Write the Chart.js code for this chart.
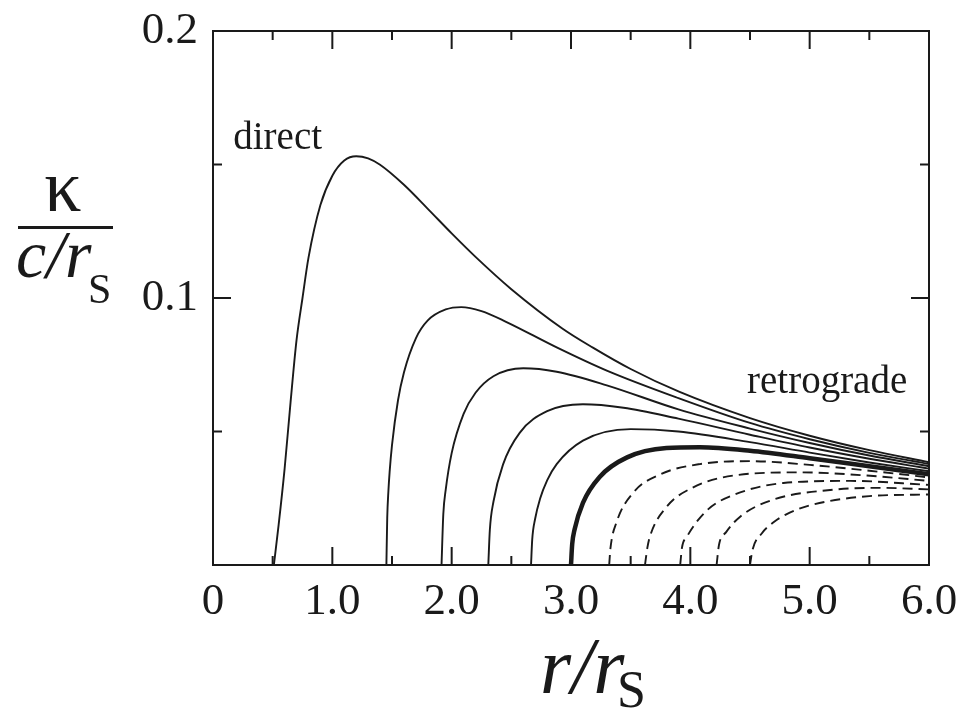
<!DOCTYPE html>
<html>
<head>
<meta charset="utf-8">
<title>Epicyclic frequency vs radius</title>
<script src="https://cdn.jsdelivr.net/npm/chart.js@4.4.1/dist/chart.umd.min.js"></script>
<style>
  html, body { margin: 0; padding: 0; background: #fff; }
  #wrap { width: 964px; height: 709px; position: relative; }
</style>
</head>
<body>
<div id="wrap"><canvas id="chart"></canvas></div>
<script>
// r / r_S and kappa / (c / r_S), one pair per curve
// direct orbits (solid), a = 1.0 ... 0.2
const r_a10 = [0.51, 0.55, 0.60, 0.65, 0.70, 0.75, 0.80, 0.90, 1.00, 1.10, 1.20, 1.30, 1.40, 1.60, 1.80, 2.00, 2.20, 2.50, 2.93, 3.18, 3.50, 3.91, 4.50, 5.00, 5.50, 6.00];
const k_a10 = [0, 0.015, 0.036, 0.061, 0.0842, 0.100, 0.115, 0.1348, 0.1458, 0.1515, 0.1531, 0.1523, 0.1499, 0.1424, 0.1334, 0.1242, 0.1154, 0.1033, 0.0885, 0.0815, 0.0734, 0.0648, 0.055, 0.0484, 0.043, 0.0385];

const r_a08 = [1.453, 1.46, 1.47, 1.48, 1.50, 1.55, 1.60, 1.70, 1.80, 1.95, 2.08, 2.25, 2.46, 2.88, 3.30, 3.90, 4.50, 5.00, 5.50, 6.00];
const k_a08 = [0, 0.0176, 0.0278, 0.0348, 0.0449, 0.0616, 0.0721, 0.0849, 0.0916, 0.0957, 0.0966, 0.0951, 0.091, 0.0815, 0.0728, 0.0625, 0.0532, 0.0471, 0.042, 0.0378];

const r_a06 = [1.915, 1.93, 1.95, 2.00, 2.10, 2.20, 2.35, 2.60, 2.88, 3.30, 3.90, 4.50, 5.00, 5.50, 6.00];
const k_a06 = [0, 0.0191, 0.0281, 0.0419, 0.0566, 0.0645, 0.0707, 0.0737, 0.0724, 0.0673, 0.0583, 0.0511, 0.0457, 0.041, 0.037];

const r_a04 = [2.307, 2.32, 2.35, 2.43, 2.57, 2.80, 3.10, 3.44, 3.90, 4.50, 5.00, 5.50, 6.00];
const k_a04 = [0, 0.0132, 0.0237, 0.0376, 0.0495, 0.0576, 0.0602, 0.0589, 0.0548, 0.0488, 0.044, 0.0398, 0.0361];

const r_a02 = [2.665, 2.675, 2.70, 2.74, 2.80, 2.88, 3.10, 3.50, 3.90, 4.50, 5.00, 5.50, 6.00];
const k_a02 = [0, 0.0095, 0.0174, 0.0247, 0.0317, 0.0378, 0.0466, 0.0509, 0.050, 0.046, 0.0421, 0.0384, 0.0351];

// non-rotating hole (thick line)
const r_a00 = [3.0, 3.01, 3.03, 3.10, 3.24, 3.47, 3.80, 4.08, 4.50, 5.00, 5.50, 6.00];
const k_a00 = [0, 0.0078, 0.0133, 0.0233, 0.033, 0.0403, 0.0438, 0.0441, 0.0428, 0.040, 0.037, 0.034];

// retrograde orbits (dashed), a = -0.2 ... -1.0
const r_m02 = [3.32, 3.33, 3.38, 3.52, 3.75, 4.08, 4.50, 5.00, 5.50, 6.00];
const k_m02 = [0, 0.006, 0.0158, 0.027, 0.034, 0.0378, 0.0389, 0.0375, 0.0353, 0.0328];

const r_m04 = [3.62, 3.64, 3.66, 3.80, 4.02, 4.36, 4.92, 5.48, 6.00];
const k_m04 = [0, 0.0065, 0.0105, 0.0217, 0.029, 0.0335, 0.0347, 0.0335, 0.0315];

const r_m06 = [3.915, 3.93, 3.97, 4.14, 4.36, 4.78, 5.34, 6.00];
const k_m06 = [0, 0.0065, 0.0105, 0.0205, 0.0262, 0.0307, 0.0315, 0.030];

const r_m08 = [4.22, 4.24, 4.30, 4.42, 4.69, 5.20, 5.60, 6.00];
const k_m08 = [0, 0.0075, 0.0123, 0.0182, 0.0244, 0.0282, 0.0289, 0.0283];

const r_m10 = [4.50, 4.52, 4.60, 4.70, 4.80, 5.00, 5.50, 6.00];
const k_m10 = [0, 0.0055, 0.0119, 0.0161, 0.0189, 0.0223, 0.0258, 0.0264];

// axis ticks
const xMajor = [1, 2, 3, 4, 5];
const xMinor = [0.5, 1.5, 2.5, 3.5, 4.5, 5.5];
const yMajor = [0.1];
const yMinor = [0.05, 0.15];
const xTickLabels = { 0: '0', 1: '1.0', 2: '2.0', 3: '3.0', 4: '4.0', 5: '5.0', 6: '6.0' };
const yTickLabels = { 0.1: '0.1', 0.2: '0.2' };

const SERIF = '"Liberation Serif", "Times New Roman", serif';
const INK = '#1a1a1a';

const toPoints = (r, k) => r.map((v, i) => ({ x: v, y: k[i] }));

const curve = (r, k, width, dash) => ({
    data: toPoints(r, k),
    showLine: true,
    borderColor: INK,
    borderWidth: width,
    borderDash: dash,
    pointRadius: 0,
    cubicInterpolationMode: 'monotone',
});

const datasets = [
    curve(r_a10, k_a10, 1.9, []),
    curve(r_a08, k_a08, 1.9, []),
    curve(r_a06, k_a06, 1.9, []),
    curve(r_a04, k_a04, 1.9, []),
    curve(r_a02, k_a02, 1.9, []),
    curve(r_a00, k_a00, 4.5, []),
    curve(r_m02, k_m02, 1.9, [10, 6]),
    curve(r_m04, k_m04, 1.9, [10, 6]),
    curve(r_m06, k_m06, 1.9, [10, 6]),
    curve(r_m08, k_m08, 1.9, [10, 6]),
    curve(r_m10, k_m10, 1.9, [10, 6]),
];

// box around the plot with inward ticks on all four sides
const framePlugin = {
    id: 'frame',
    afterDatasetsDraw(chart) {
        const { ctx, chartArea: a, scales: { x, y } } = chart;
        ctx.save();
        ctx.strokeStyle = INK;
        ctx.lineWidth = 2;
        ctx.strokeRect(a.left, a.top, a.right - a.left, a.bottom - a.top);
        ctx.beginPath();
        const xt = (v, len) => {
            const px = x.getPixelForValue(v);
            ctx.moveTo(px, a.bottom); ctx.lineTo(px, a.bottom - len);
            ctx.moveTo(px, a.top); ctx.lineTo(px, a.top + len);
        };
        const yt = (v, len) => {
            const py = y.getPixelForValue(v);
            ctx.moveTo(a.left, py); ctx.lineTo(a.left + len, py);
            ctx.moveTo(a.right, py); ctx.lineTo(a.right - len, py);
        };
        xMajor.forEach(v => xt(v, 18));
        xMinor.forEach(v => xt(v, 9));
        yMajor.forEach(v => yt(v, 18));
        yMinor.forEach(v => yt(v, 9));
        ctx.stroke();
        ctx.restore();
    }
};

// curve labels and the two axis titles (fraction + subscripts)
const textPlugin = {
    id: 'texts',
    afterDraw(chart) {
        const { ctx, scales: { x, y } } = chart;
        ctx.save();
        ctx.fillStyle = INK;
        ctx.textBaseline = 'alphabetic';
        ctx.textAlign = 'left';

        ctx.font = '39px ' + SERIF;
        ctx.fillText('direct', x.getPixelForValue(0.17), y.getPixelForValue(0.1558));
        ctx.fillText('retrograde', x.getPixelForValue(4.475), y.getPixelForValue(0.0644));

        // y title: kappa over c/r_S
        ctx.textAlign = 'center';
        ctx.font = '74px ' + SERIF;
        ctx.fillText('\u03ba', 63, 211);
        ctx.fillRect(18, 226, 95, 3);
        ctx.textAlign = 'left';
        ctx.font = 'italic 68px ' + SERIF;
        ctx.fillText('c/r', 16, 277);
        ctx.font = '42px ' + SERIF;
        ctx.fillText('S', 88, 303);

        // x title: r/r_S
        ctx.font = 'italic 80px ' + SERIF;
        ctx.fillText('r/r', 540, 693);
        ctx.font = '52px ' + SERIF;
        ctx.fillText('S', 617, 707);
        ctx.restore();
    }
};

new Chart(document.getElementById('chart'), {
    type: 'scatter',
    data: { datasets },
    options: {
        responsive: true,
        maintainAspectRatio: false,
        animation: false,
        layout: { padding: { top: 31, right: 35, left: 0, bottom: 0 } },
        plugins: {
            legend: { display: false },
            tooltip: { enabled: false },
        },
        scales: {
            x: {
                type: 'linear',
                min: 0,
                max: 6,
                afterFit: (s) => { s.height = 144; s.paddingLeft = 0; s.paddingRight = 0; },
                grid: { display: false, drawTicks: false },
                border: { display: false },
                ticks: {
                    stepSize: 1,
                    padding: 10,
                    color: INK,
                    font: { family: SERIF, size: 45 },
                    callback: (v) => xTickLabels[v] ?? '',
                },
            },
            y: {
                type: 'linear',
                min: 0,
                max: 0.2,
                afterFit: (s) => { s.width = 213; s.paddingTop = 0; s.paddingBottom = 0; },
                grid: { display: false, drawTicks: false },
                border: { display: false },
                ticks: {
                    stepSize: 0.1,
                    padding: 15,
                    color: INK,
                    font: { family: SERIF, size: 45 },
                    callback: (v) => yTickLabels[Math.round(v * 10) / 10] ?? '',
                },
            },
        },
    },
    plugins: [framePlugin, textPlugin],
});
</script>
</body>
</html>
